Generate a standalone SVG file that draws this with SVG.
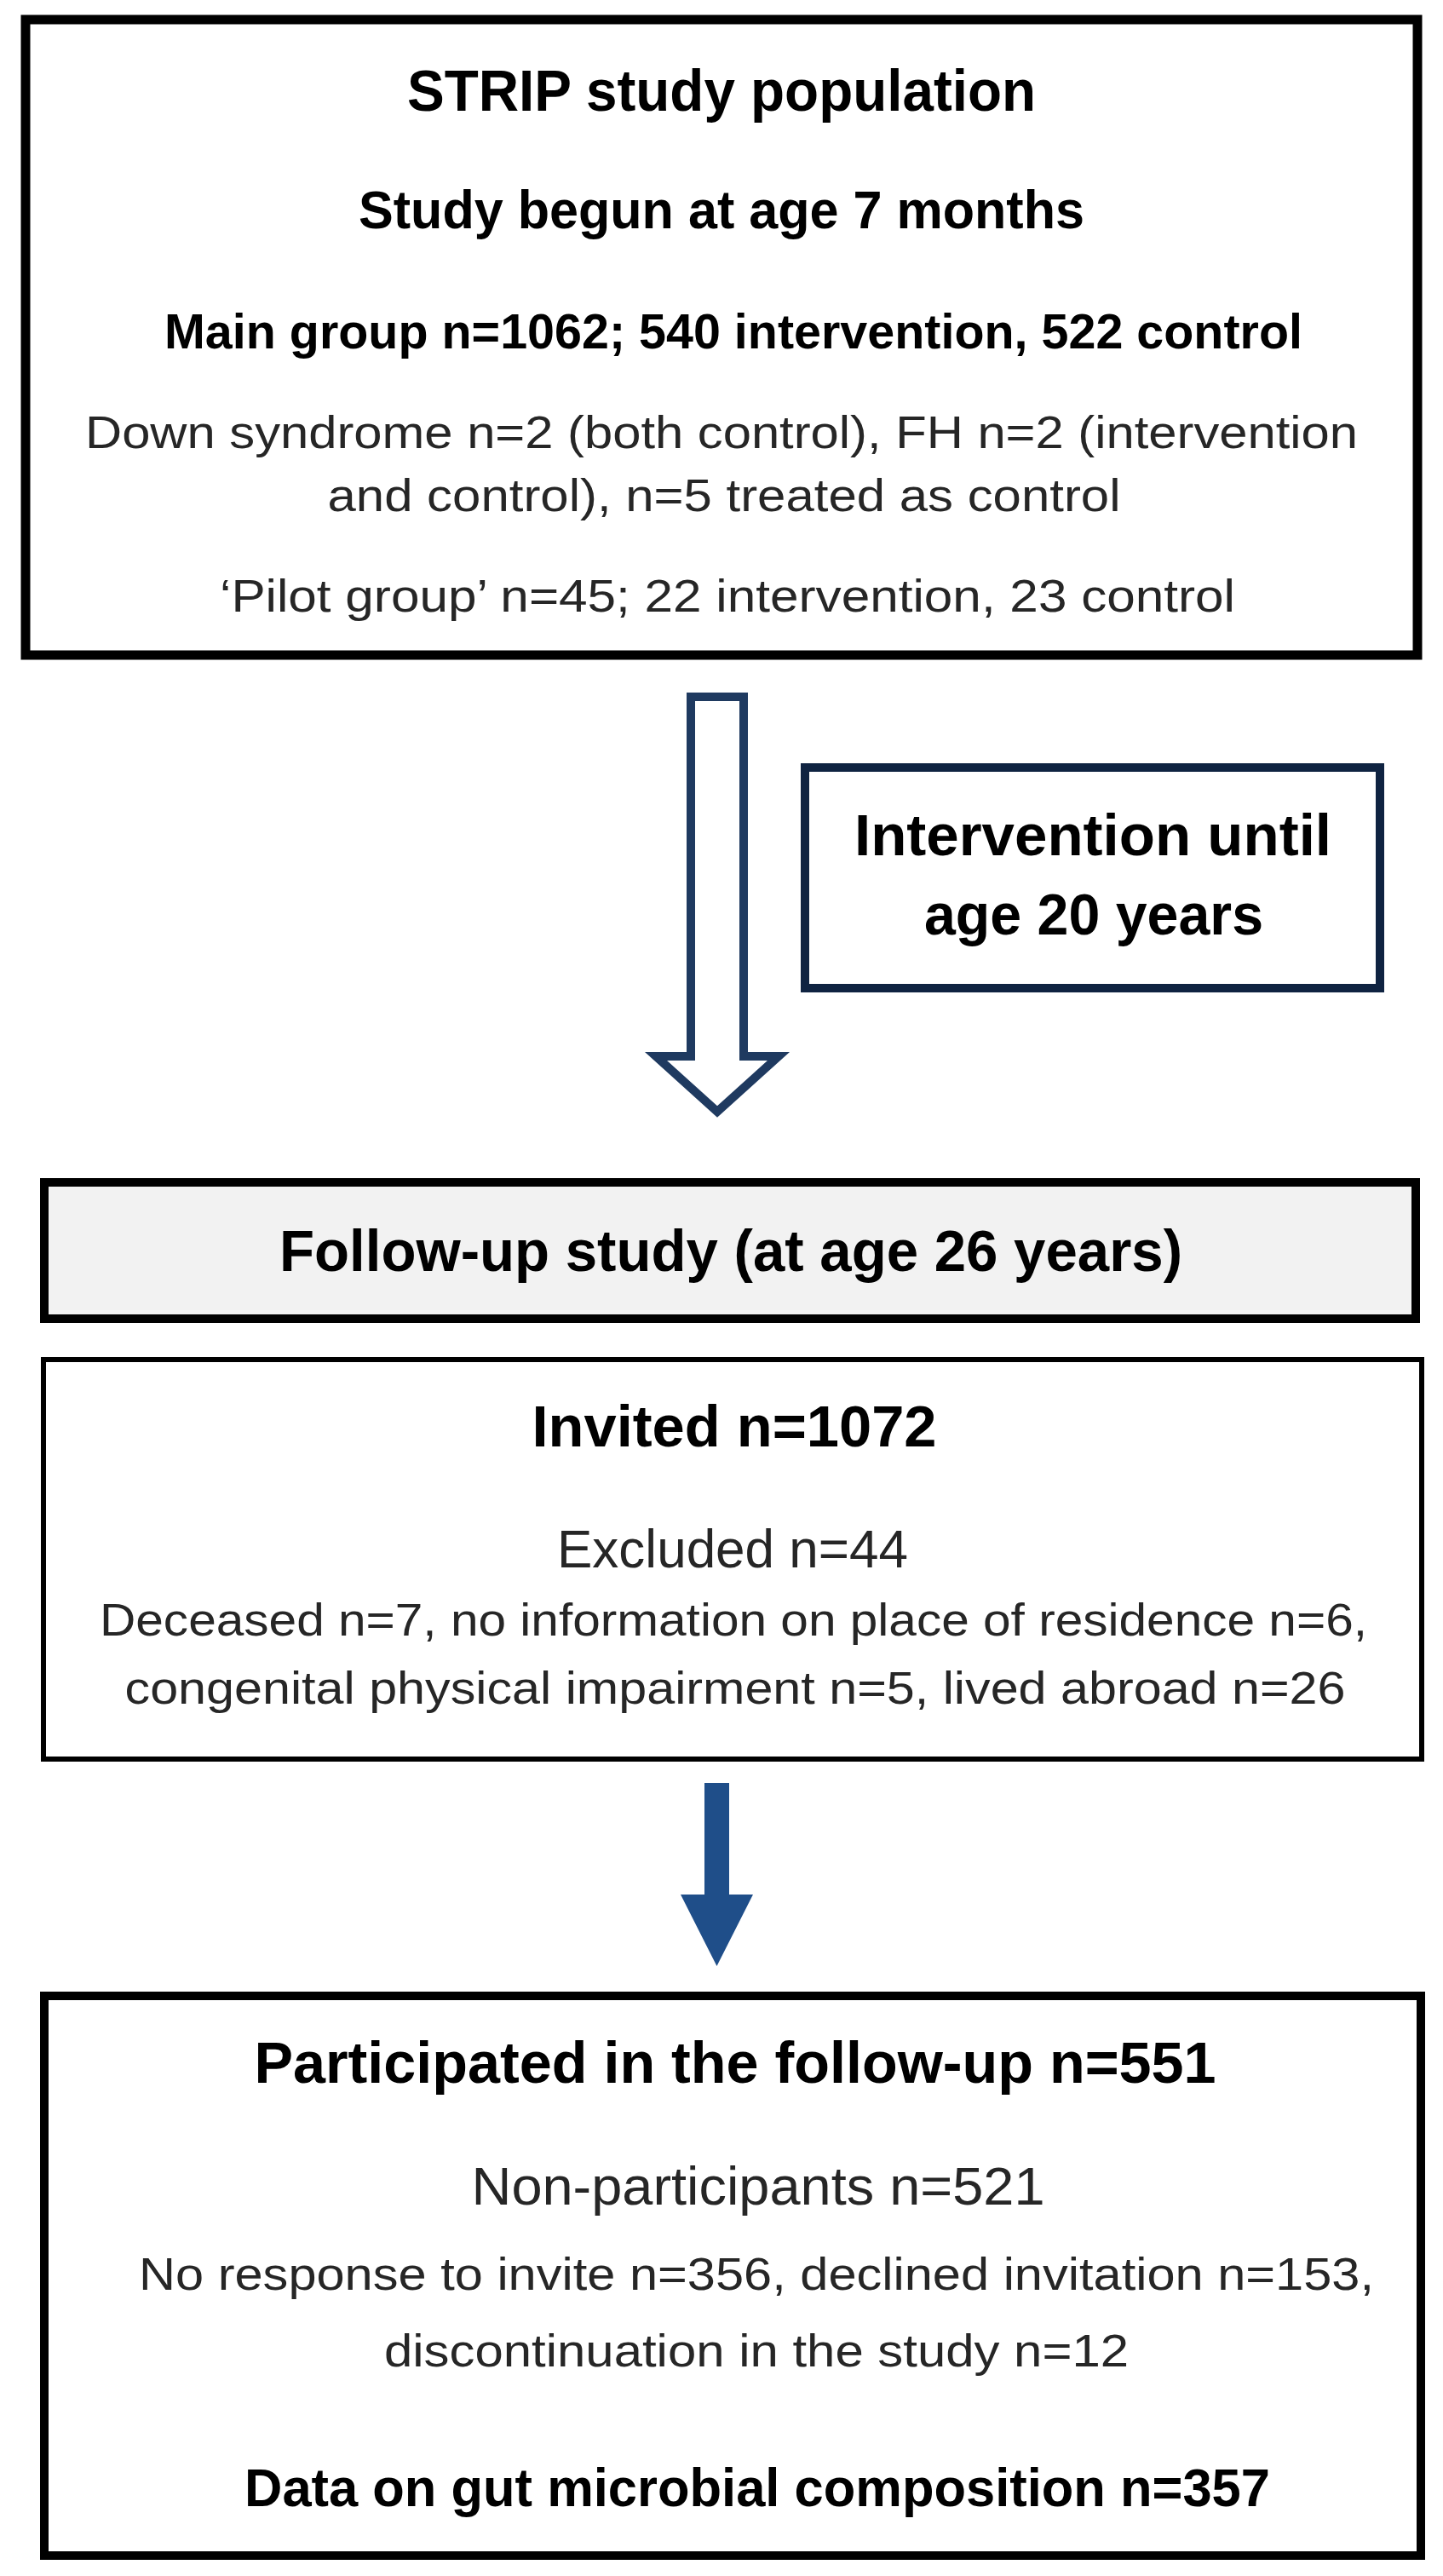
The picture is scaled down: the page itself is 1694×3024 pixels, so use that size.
<svg xmlns="http://www.w3.org/2000/svg" width="1694" height="3024" viewBox="0 0 1694 3024">
<style>
text{font-family:"Liberation Sans",Arial,sans-serif;text-anchor:middle}
.b{font-weight:bold;fill:#000}
.r{fill:#262626}
.box{fill:#fff;stroke:#000}
</style>
<rect x="0" y="0" width="1694" height="3024" fill="#fff"/>
<g id="connectors">
<path id="arrow-hollow" d="M811,818 H873 V1240 H914 L842,1305 L770,1240 H811 Z" fill="#fff" stroke="#1f3a60" stroke-width="10" stroke-linejoin="miter"/>
<path id="arrow-filled" d="M827,2093 H856 V2224 H884 L841.5,2308 L799,2224 H827 Z" fill="#1f4e89"/>
</g>
<g id="node-population">
<rect class="box" x="30" y="23" width="1634" height="746" stroke-width="11"/>
<text class="b" x="847" y="130" font-size="69" textLength="738" lengthAdjust="spacingAndGlyphs">STRIP study population</text>
<text class="b" x="847" y="268" font-size="63" textLength="852" lengthAdjust="spacingAndGlyphs">Study begun at age 7 months</text>
<text class="b" x="861" y="409" font-size="58" textLength="1336" lengthAdjust="spacingAndGlyphs">Main group n=1062; 540 intervention, 522 control</text>
<text class="r" x="847" y="526" font-size="54" textLength="1494" lengthAdjust="spacingAndGlyphs">Down syndrome n=2 (both control), FH n=2 (intervention</text>
<text class="r" x="850" y="600" font-size="54" textLength="931" lengthAdjust="spacingAndGlyphs">and control), n=5 treated as control</text>
<text class="r" x="854" y="718" font-size="54" textLength="1192" lengthAdjust="spacingAndGlyphs">‘Pilot group’ n=45; 22 intervention, 23 control</text>
</g>
<g id="node-intervention">
<rect x="945" y="901" width="675" height="259" fill="#fff" stroke="#0f2341" stroke-width="10"/>
<text class="b" x="1283" y="1004" font-size="69" textLength="560" lengthAdjust="spacingAndGlyphs">Intervention until</text>
<text class="b" x="1284" y="1097" font-size="69" textLength="398" lengthAdjust="spacingAndGlyphs">age 20 years</text>
</g>
<g id="node-followup">
<rect x="52" y="1388" width="1610" height="160" fill="#f2f2f2" stroke="#000" stroke-width="10"/>
<text class="b" x="858" y="1492" font-size="69" textLength="1060" lengthAdjust="spacingAndGlyphs">Follow-up study (at age 26 years)</text>
</g>
<g id="node-invited">
<rect class="box" x="51" y="1596" width="1618" height="469" stroke-width="6"/>
<text class="b" x="862" y="1698" font-size="69" textLength="475" lengthAdjust="spacingAndGlyphs">Invited n=1072</text>
<text class="r" x="860" y="1840" font-size="63" textLength="412" lengthAdjust="spacingAndGlyphs">Excluded n=44</text>
<text class="r" x="861" y="1920" font-size="54" textLength="1488" lengthAdjust="spacingAndGlyphs">Deceased n=7, no information on place of residence n=6,</text>
<text class="r" x="863" y="2000" font-size="54" textLength="1433" lengthAdjust="spacingAndGlyphs">congenital physical impairment n=5, lived abroad n=26</text>
</g>
<g id="node-participated">
<rect class="box" x="52" y="2343" width="1616" height="657" stroke-width="10"/>
<text class="b" x="863" y="2445" font-size="69" textLength="1129" lengthAdjust="spacingAndGlyphs">Participated in the follow-up n=551</text>
<text class="r" x="890" y="2588" font-size="63" textLength="673" lengthAdjust="spacingAndGlyphs">Non-participants n=521</text>
<text class="r" x="888" y="2688" font-size="54" textLength="1450" lengthAdjust="spacingAndGlyphs">No response to invite n=356, declined invitation n=153,</text>
<text class="r" x="888" y="2778" font-size="54" textLength="874" lengthAdjust="spacingAndGlyphs">discontinuation in the study n=12</text>
<text class="b" x="889" y="2942" font-size="63" textLength="1204" lengthAdjust="spacingAndGlyphs">Data on gut microbial composition n=357</text>
</g>
</svg>
